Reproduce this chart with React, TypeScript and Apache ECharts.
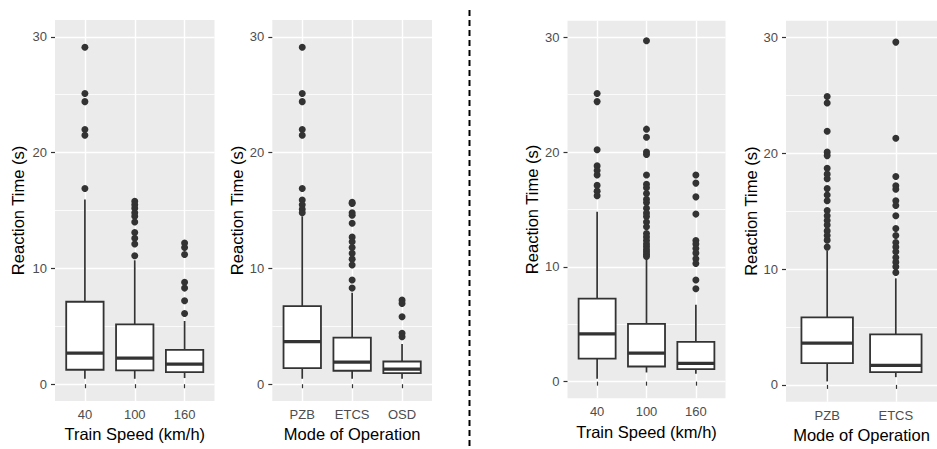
import React, { useEffect, useRef } from 'react';
import * as echarts from 'echarts';

// ---------- data ----------
const speedCategories = ['40', '100', '160'];
const modeCategoriesA = ['PZB', 'ETCS', 'OSD'];
const modeCategoriesB = ['PZB', 'ETCS'];
const yTickValues = [0, 10, 20, 30];
const yMinorValues = [5, 15, 25];

// box stats: [lower whisker, Q1, median, Q3, upper whisker]
const speedBoxesLeft = [
  [0.47, 1.25, 2.68, 7.12, 15.95],
  [0.47, 1.19, 2.25, 5.17, 10.7],
  [0.53, 1.05, 1.73, 2.97, 5.46],
];
const speedOutliersLeft = [
  [29.1, 25.1, 24.4, 22.0, 21.5, 16.9],
  [15.8, 15.5, 15.2, 14.8, 14.5, 14.0, 13.1, 12.6, 12.1, 11.1],
  [12.2, 11.8, 11.2, 8.8, 8.3, 7.2, 6.1],
];

const modeBoxesLeft = [
  [0.47, 1.39, 3.68, 6.75, 14.5],
  [0.47, 1.16, 1.9, 4.03, 7.9],
  [0.47, 0.96, 1.3, 1.96, 3.48],
];
const modeOutliersLeft = [
  [29.1, 25.1, 24.4, 22.0, 21.5, 16.9, 15.9, 15.5, 15.1, 14.8],
  [15.7, 15.6, 14.8, 14.6, 13.9, 12.7, 12.3, 11.8, 11.3, 10.8, 10.3, 9.0, 8.3],
  [7.26, 6.98, 5.83, 4.4, 4.1],
];

const speedBoxesRight = [
  [0.25, 2.01, 4.16, 7.23, 14.8],
  [0.8, 1.32, 2.48, 5.03, 10.6],
  [0.68, 1.09, 1.6, 3.46, 6.7],
];
const speedOutliersRight = [
  [25.1, 24.4, 20.2, 18.8, 18.4, 18.0, 17.1, 16.6, 16.2],
  [29.7, 22.0, 21.3, 20.0, 19.8, 18.0, 17.2, 16.9, 16.4, 15.9, 15.6, 15.1, 14.7, 14.4, 13.9, 13.5, 12.9, 12.6, 12.3, 12.0, 11.75, 11.5, 11.3, 11.1, 10.9],
  [18.0, 17.3, 16.1, 14.6, 12.3, 12.0, 11.6, 11.2, 10.7, 10.3, 8.85, 8.1],
];

const modeBoxesRight = [
  [0.3, 1.88, 3.6, 5.83, 11.6],
  [0.67, 1.1, 1.68, 4.37, 9.2],
];
const modeOutliersRight = [
  [24.9, 24.35, 21.9, 20.1, 19.8, 18.7, 18.2, 17.8, 16.95, 16.4, 15.9, 15.05, 14.6, 14.2, 13.8, 13.3, 12.9, 12.5, 11.9],
  [29.6, 21.3, 18.0, 17.2, 16.9, 15.9, 15.5, 14.6, 13.5, 12.9, 12.3, 11.9, 11.5, 11.0, 10.6, 10.2, 9.7],
];

// ---------- layout ----------
const FONT = '"Liberation Sans", Arial, Helvetica, sans-serif';
const Y_MIN = -1.45;
const Y_MAX = 31.45;
const INK = '#333333';

const panels = [
  { cats: speedCategories, boxes: speedBoxesLeft, outliers: speedOutliersLeft, xName: 'Train Speed (km/h)', grid: { left: 55, top: 20, width: 159.5, height: 381 }, yGap: 29 },
  { cats: modeCategoriesA, boxes: modeBoxesLeft, outliers: modeOutliersLeft, xName: 'Mode of Operation', grid: { left: 272.3, top: 20, width: 159.7, height: 381 }, yGap: 25.5 },
  { cats: speedCategories, boxes: speedBoxesRight, outliers: speedOutliersRight, xName: 'Train Speed (km/h)', grid: { left: 567.5, top: 20.7, width: 158, height: 377.6 }, yGap: 27 },
  { cats: modeCategoriesB, boxes: modeBoxesRight, outliers: modeOutliersRight, xName: 'Mode of Operation', grid: { left: 786, top: 20.7, width: 160, height: 381 }, yGap: 27 },
];

function buildOption() {
  const grid: any[] = [];
  const xAxis: any[] = [];
  const yAxis: any[] = [];
  const series: any[] = [];

  panels.forEach((p, i) => {
    grid.push({
      ...p.grid,
      show: true,
      backgroundColor: '#EBEBEB',
      borderWidth: 0,
      containLabel: false,
    });
    const catIdx = p.cats.map((_, k) => k + 1);
    xAxis.push({
      type: 'value',
      gridIndex: i,
      min: 0.4,
      max: p.cats.length + 0.6,
      axisLine: { show: false },
      axisTick: { show: true, length: 4, customValues: catIdx, lineStyle: { color: INK, width: 1.2 } },
      axisLabel: {
        customValues: catIdx,
        formatter: (v: number) => p.cats[Math.round(v) - 1] ?? '',
        color: '#4D4D4D',
        fontSize: 13,
        fontFamily: FONT,
        margin: 7,
      },
      splitLine: { show: true, lineStyle: { color: '#FFFFFF', width: 1.4 } },
      name: p.xName,
      nameLocation: 'middle',
      nameGap: 24,
      nameTextStyle: { color: '#000000', fontSize: 16.5, fontFamily: FONT },
    });
    yAxis.push({
      type: 'value',
      gridIndex: i,
      min: Y_MIN,
      max: Y_MAX,
      position: 'left',
      axisLine: { show: false },
      axisTick: { show: true, length: 4, customValues: yTickValues, lineStyle: { color: INK, width: 1.2 } },
      axisLabel: { customValues: yTickValues, color: '#4D4D4D', fontSize: 13, fontFamily: FONT, margin: 8 },
      splitLine: { show: true, lineStyle: { color: '#FFFFFF', width: 1.4 } },
      name: 'Reaction Time (s)',
      nameLocation: 'middle',
      nameGap: p.yGap,
      nameTextStyle: { color: '#000000', fontSize: 16.5, fontFamily: FONT },
    });
  });
  // minor y axes (grid lines at 5, 15, 25)
  panels.forEach((p, i) => {
    yAxis.push({
      type: 'value',
      gridIndex: i,
      min: Y_MIN,
      max: Y_MAX,
      position: 'left',
      axisLine: { show: false },
      axisTick: { show: false, customValues: yMinorValues },
      axisLabel: { show: false, customValues: yMinorValues },
      splitLine: { show: true, lineStyle: { color: '#FFFFFF', width: 0.8 } },
    });
  });

  panels.forEach((p, i) => {
    series.push({
      type: 'custom',
      xAxisIndex: i,
      yAxisIndex: i,
      data: p.boxes.map((b, k) => [k + 1, ...b]),
      encode: { x: 0, y: [1, 2, 3, 4, 5] },
      z: 2,
      renderItem: (params: any, api: any) => {
        const x = api.value(0);
        const low = api.coord([x, api.value(1)]);
        const q1 = api.coord([x, api.value(2)]);
        const med = api.coord([x, api.value(3)]);
        const q3 = api.coord([x, api.value(4)]);
        const high = api.coord([x, api.value(5)]);
        const w = api.size([0.75, 0])[0];
        const cx = low[0];
        const ls = { stroke: INK, lineWidth: 1.7, fill: null };
        return {
          type: 'group',
          children: [
            { type: 'line', shape: { x1: cx, y1: high[1], x2: cx, y2: q3[1] }, style: ls },
            { type: 'line', shape: { x1: cx, y1: q1[1], x2: cx, y2: low[1] }, style: ls },
            { type: 'rect', shape: { x: cx - w / 2, y: q3[1], width: w, height: q1[1] - q3[1] }, style: { fill: '#FFFFFF', stroke: INK, lineWidth: 1.8 } },
            { type: 'line', shape: { x1: cx - w / 2, y1: med[1], x2: cx + w / 2, y2: med[1] }, style: { stroke: INK, lineWidth: 3.2 } },
          ],
        };
      },
    });
    series.push({
      type: 'scatter',
      xAxisIndex: i,
      yAxisIndex: i,
      z: 3,
      symbol: 'circle',
      symbolSize: 7,
      itemStyle: { color: INK, opacity: 1 },
      data: p.outliers.flatMap((arr, k) => arr.map((v) => [k + 1, v])),
    });
  });

  return {
    animation: false,
    backgroundColor: '#FFFFFF',
    textStyle: { fontFamily: FONT },
    grid,
    xAxis,
    yAxis,
    series,
    graphic: [
      {
        type: 'line',
        shape: { x1: 469.5, y1: 10, x2: 469.5, y2: 449 },
        style: { stroke: '#000000', lineWidth: 2, lineDash: [6, 4] },
        silent: true,
      },
    ],
  };
}

export default function App() {
  const ref = useRef<HTMLDivElement>(null);
  useEffect(() => {
    if (!ref.current) return;
    const chart = echarts.init(ref.current, undefined, { renderer: 'svg' });
    chart.setOption(buildOption() as any);
    return () => chart.dispose();
  }, []);
  return (
    <div
      ref={ref}
      style={{ position: 'absolute', left: 0, top: 0, width: 937, height: 449, background: '#fff' }}
    />
  );
}
